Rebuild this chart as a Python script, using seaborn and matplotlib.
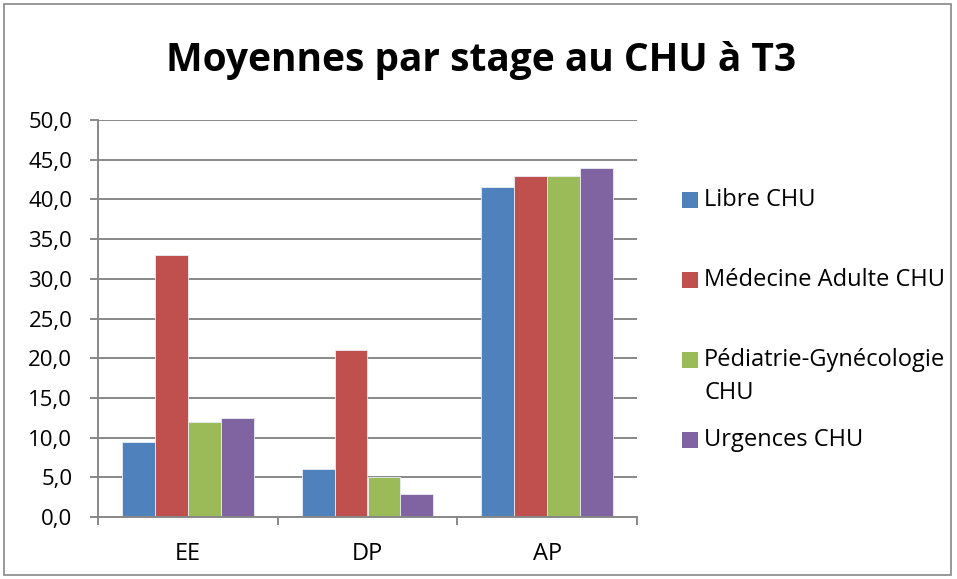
import matplotlib
matplotlib.use("Agg")
import matplotlib.pyplot as plt
import matplotlib.patches as mpatches
import seaborn as sns
import pandas as pd
from matplotlib.ticker import FuncFormatter

categories = ["EE", "DP", "AP"]
series_names = ["Libre CHU", "Médecine Adulte CHU", "Pédiatrie-Gynécologie CHU", "Urgences CHU"]
libre = [9.5, 6.0, 41.5]
medecine = [33.0, 21.0, 43.0]
pediatrie = [12.0, 5.0, 43.0]
urgences = [12.5, 2.9, 44.0]
colors = ["#4F81BD", "#C0504D", "#9BBB59", "#8064A2"]
legend_lines = [["Libre CHU"], ["Médecine Adulte CHU"], ["Pédiatrie-Gynécologie", "CHU"], ["Urgences CHU"]]
yticks = [0, 5, 10, 15, 20, 25, 30, 35, 40, 45, 50]

rows = []
for name, vals in zip(series_names, [libre, medecine, pediatrie, urgences]):
    for c, v in zip(categories, vals):
        rows.append({"cat": c, "serie": name, "val": v})
df = pd.DataFrame(rows)

sns.set_theme(style="white")
FONT = "Open Sans"
plt.rcParams["font.family"] = [FONT, "DejaVu Sans"]

W, H = 957, 579
fig = plt.figure(figsize=(W/100, H/100), dpi=100)
ax = fig.add_axes([98/W, 1-517/H, (637-98)/W, (517-120)/H])

sns.barplot(data=df, x="cat", y="val", hue="serie", order=categories,
            hue_order=series_names, palette=colors, saturation=1, width=0.733,
            edgecolor="#e8eef6", linewidth=0.6, ax=ax, legend=False, zorder=3)

ax.set_xlim(-0.5, 2.5)
ax.set_ylim(0, 50)
ax.set_yticks(yticks)
ax.yaxis.set_major_formatter(FuncFormatter(lambda v, p: f"{v:.1f}".replace(".", ",")))
grid_c = "#888888"
for y in yticks[1:]:
    ax.axhline(y, color=grid_c, lw=1.4, zorder=1)
for s in ["top", "right"]:
    ax.spines[s].set_visible(False)
for s in ["left", "bottom"]:
    ax.spines[s].set_color(grid_c)
    ax.spines[s].set_linewidth(1.4)
    ax.spines[s].set_zorder(4)
ax.set_xlabel("")
ax.set_ylabel("")
ax.tick_params(axis="y", direction="out", length=5.5, width=1.4, color=grid_c,
               labelsize=16, pad=13, left=True, labelcolor="black")
ax.set_xticks([0, 1, 2])
ax.set_xticklabels(categories)
ax.set_xticks([-0.5, 0.5, 1.5, 2.5], minor=True)
ax.tick_params(axis="x", which="major", length=0, labelsize=17, pad=18, labelcolor="black")
ax.tick_params(axis="x", which="minor", direction="out", length=6, width=1.4,
               color=grid_c, bottom=True)

fig.text(0.503, 1-60/H, "Moyennes par stage au CHU à T3", ha="center", va="center",
         fontsize=28, fontweight="bold", color="black")

# legend (drawn manually to reproduce Excel's spacing)
y0, step, sq = 200, 80, 16
for i, (lines, c) in enumerate(zip(legend_lines, colors)):
    yc = y0 + i * step
    fig.patches.append(mpatches.Rectangle((682/W, 1-(yc+sq/2)/H), sq/W, sq/H,
                                          transform=fig.transFigure, facecolor=c,
                                          edgecolor="none"))
    for j, line in enumerate(lines):
        fig.text(704/W, 1-(yc + j*33)/H, line, ha="left", va="center",
                 fontsize=17, color="black")

fig.patches.append(mpatches.Rectangle((4/W, 4/H), 947/W, 571/H, transform=fig.transFigure,
                                      fill=False, edgecolor="#888888", lw=1.2))

fig.savefig("out.png", dpi=100)
